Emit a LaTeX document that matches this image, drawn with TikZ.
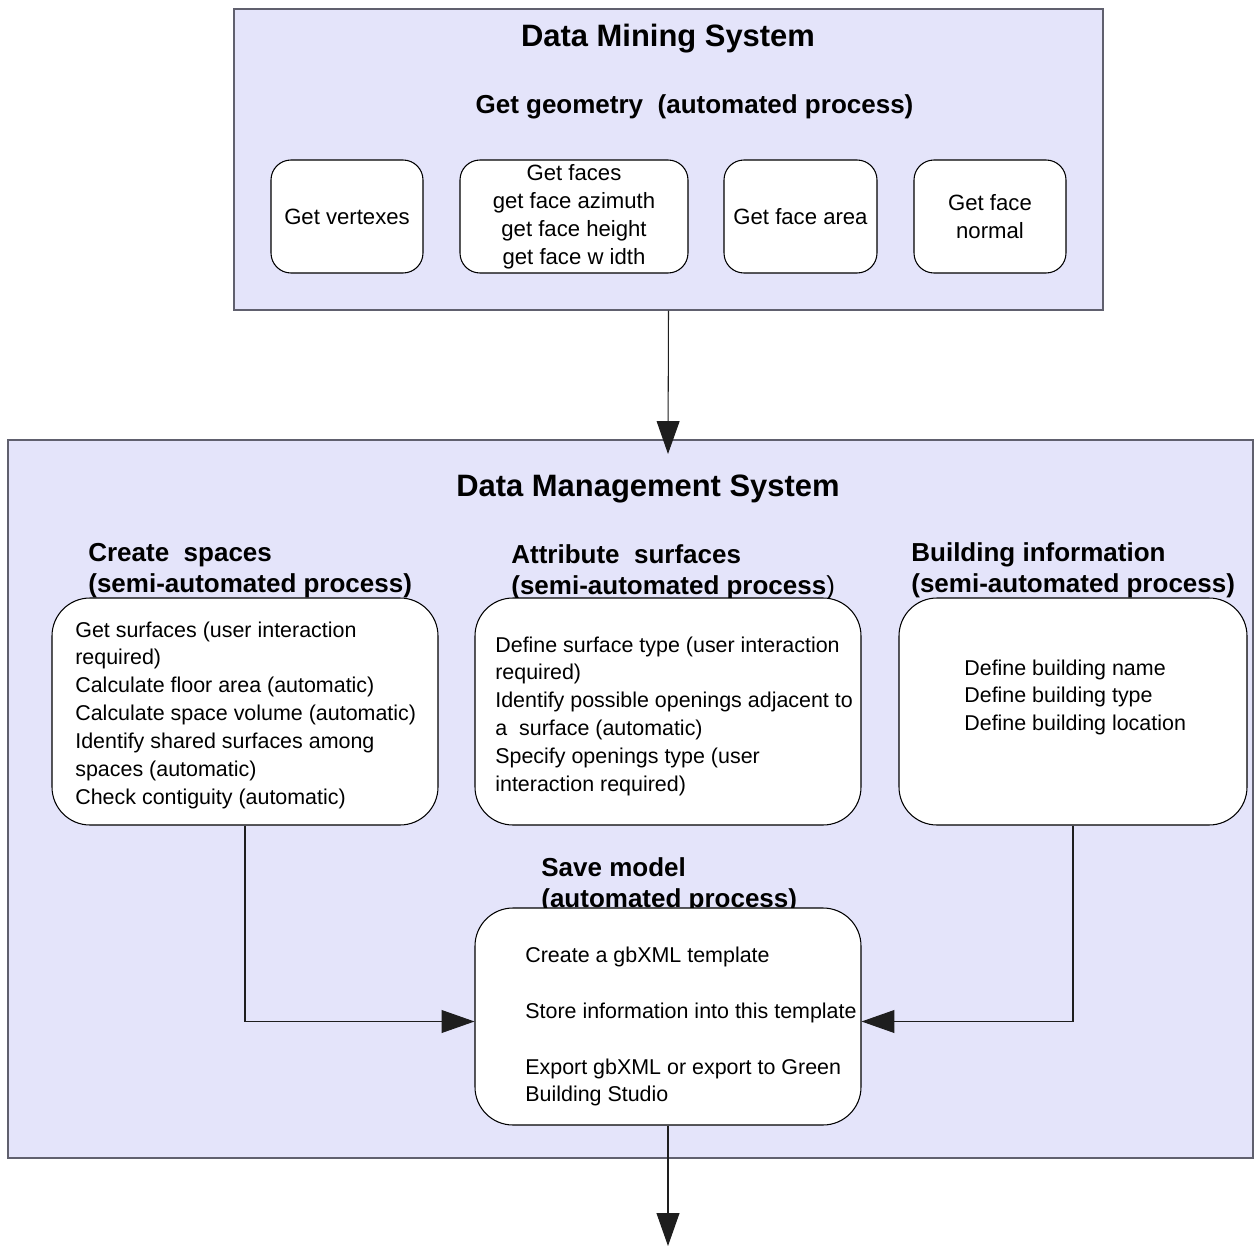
\documentclass[tikz,border=0pt]{standalone}
\usepackage{fontspec}
\setmainfont{Liberation Sans}
\usetikzlibrary{arrows.meta,calc}

% one drawing unit = 0.02cm
\newlength\pxu
\setlength\pxu{0.02cm}

\definecolor{panelfill}{RGB}{228,228,250}
\definecolor{panelrule}{RGB}{96,96,110}
\definecolor{wire}{RGB}{30,30,30}

% left-aligned block of lines whose reference point is the first baseline
\newcommand\txtlines[1]{\begin{tabular}[t]{@{}l@{}}#1\end{tabular}}

\begin{document}
\begin{tikzpicture}[x=0.02cm,y=-0.02cm,
  panel/.style={draw=panelrule, fill=panelfill, line width=0.6pt, inner sep=0},
  stepbox/.style={draw=black, fill=white, line width=0.6pt, inner sep=0,
    rounded corners=20\pxu, align=center,
    font=\fontsize{12.6}{15.9}\selectfont},
  taskbox/.style={draw=black, fill=white, line width=0.6pt, inner sep=0,
    rounded corners=38\pxu},
  maintitle/.style={anchor=base, inner sep=0, font=\fontsize{17.6}{20}\selectfont\bfseries},
  subtitle/.style={anchor=base west, inner sep=0, font=\fontsize{14.8}{18.1}\selectfont\bfseries},
  body/.style={anchor=base west, inner sep=0, font=\fontsize{12.2}{15.9}\selectfont},
  flow/.style={draw=wire, line width=0.6pt, -{Triangle[length=18.7pt,width=13pt]}}
]
\useasboundingbox (0,0) rectangle (1255,1247);
\fill[white] (0,0) rectangle (1255,1247);

% ---------------- panels ----------------
\node[panel, minimum width=869\pxu, minimum height=301\pxu] (dm) at (668.5,159.5) {};
\node[panel, minimum width=1245\pxu, minimum height=718\pxu] (dms) at (630.5,799) {};

% ---------------- data mining system ----------------
\node[maintitle] (dmtitle) at (668,47) {Data Mining System};
\node[anchor=base, inner sep=0, font=\fontsize{14.8}{18}\selectfont\bfseries]
  (geomtitle) at (694.5,113) {Get geometry\ \ (automated process)};

\node[stepbox, minimum width=152\pxu, minimum height=113\pxu] (vert) at (347,216.5) {Get vertexes};
\node[stepbox, minimum width=228\pxu, minimum height=113\pxu] (faces) at (574,216.5)
  {Get faces\\get face azimuth\\get face height\\get face w idth};
\node[stepbox, minimum width=153\pxu, minimum height=113\pxu] (area) at (800.5,216.5) {Get face area};
\node[stepbox, minimum width=152\pxu, minimum height=113\pxu] (normal) at (990,216.5) {Get face\\normal};

% ---------------- data management system ----------------
\node[maintitle] (dmstitle) at (648,496) {Data Management System};

\node[subtitle] (cstitle) at (88,561) {\txtlines{Create\ \ spaces\\(semi-automated process)}};
\node[subtitle] (astitle) at (511,563) {\txtlines{Attribute\ \ surfaces\\(semi-automated process\mdseries)}};
\node[subtitle] (bititle) at (911,561) {\txtlines{Building information\\(semi-automated process)}};
\node[subtitle] (smtitle) at (541,876) {\txtlines{Save model\\(automated process)}};

\node[taskbox, minimum width=386\pxu, minimum height=227\pxu] (cs) at (245,711.5) {};
\node[taskbox, minimum width=386\pxu, minimum height=227\pxu] (as) at (668,711.5) {};
\node[taskbox, minimum width=348\pxu, minimum height=227\pxu] (bi) at (1073,711.5) {};
\node[taskbox, minimum width=386\pxu, minimum height=217\pxu] (save) at (668,1016.5) {};

\node[body] (cstext) at (75,637) {\txtlines{%
  Get surfaces (user interaction\\
  required)\\
  Calculate floor area (automatic)\\
  Calculate space volume (automatic)\\
  Identify shared surfaces among\\
  spaces (automatic)\\
  Check contiguity (automatic)}};

\node[body] (astext) at (495,652) {\txtlines{%
  Define surface type (user interaction\\
  required)\\
  Identify possible openings adjacent to\\
  a\ \ surface (automatic)\\
  Specify openings type (user\\
  interaction required)}};

\node[body] (bitext) at (964,675) {\txtlines{%
  Define building name\\
  Define building type\\
  Define building location}};

\node[body] (savetext1) at (525,962) {Create a gbXML template};
\node[body] (savetext2) at (525,1018) {Store information into this template};
\node[body] (savetext3) at (525,1074) {\txtlines{Export gbXML or export to Green\\Building Studio}};

% ---------------- connectors ----------------
\coordinate (dmsin) at (668,454);
\coordinate (savein) at ($(save.west)+(0,5)$);
\coordinate (saveinr) at ($(save.east)+(0,5)$);
\coordinate (out) at (668,1246);

\draw[flow] (dm.south) -- (dmsin);
\draw[flow] (cs.south) |- (savein);
\draw[flow] (bi.south) |- (saveinr);
\draw[flow] (save.south) -- (out);
\end{tikzpicture}
\end{document}
